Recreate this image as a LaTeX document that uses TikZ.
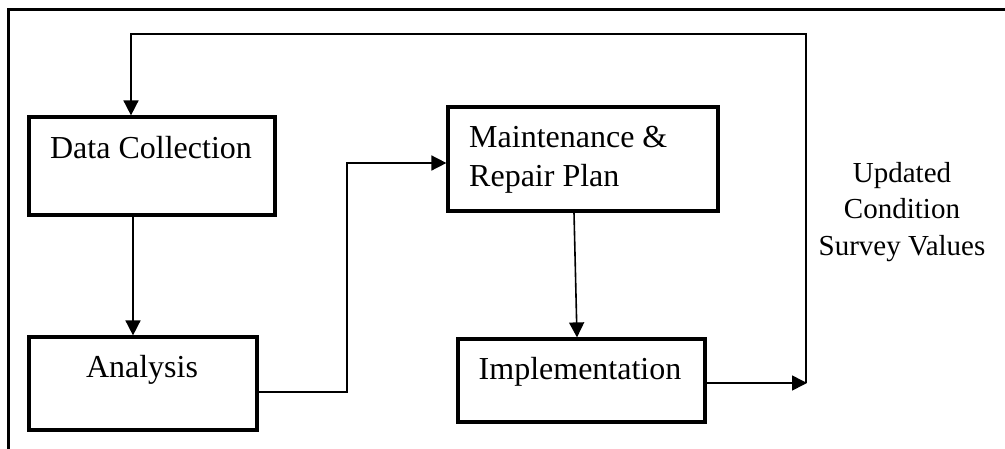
\documentclass[tikz,border=0pt]{standalone}
\usepackage{fontspec}
\setmainfont{Liberation Serif}
\usetikzlibrary{arrows.meta}
\begin{document}
\begin{tikzpicture}[x=1pt,y=-1pt,
  box/.style={draw, line width=3.2pt, inner sep=0pt},
  conn/.style={line width=1.6pt, -{Triangle[length=15pt,width=15pt]}},
  frame/.style={line width=3pt},
  boxtext/.style={font=\fontsize{32}{39}\selectfont, inner sep=0pt},
  note/.style={font=\fontsize{29}{36.5}\selectfont, inner sep=0pt, align=center}]
\useasboundingbox (0,0) rectangle (1005,448);

% outer frame (open to the right and bottom)
\draw[frame] (8,452) -- (8,9) -- (1010,9);

% process boxes
\node[box, minimum width=246pt, minimum height=98pt] (dc) at (152,166) {};
\node[box, minimum width=228pt, minimum height=93pt] (an) at (143,383.5) {};
\node[box, minimum width=270pt, minimum height=104pt] (mr) at (583,159) {};
\node[box, minimum width=247pt, minimum height=83pt] (im) at (581.5,380.5) {};

% box texts
\node[boxtext, anchor=base] (dct) at (151,158) {Data Collection};
\node[boxtext, anchor=base] (ant) at (142,377) {Analysis};
\node[boxtext, anchor=base west, align=left] (mrt) at (469,186) {Maintenance \&\\Repair Plan};
\node[boxtext, anchor=base] (imt) at (580,379) {Implementation};

% feedback label
\node[note, anchor=base] (upd) at (902,255) {Updated\\Condition\\Survey Values};

% connectors
\coordinate (ajog) at (347,280);
\coordinate (fbend) at (806,383);
\coordinate (fbtop) at (806,34);

\draw[conn] ([xshift=-19pt]dc.south) -- ([xshift=-10pt]an.north);
\draw[conn] ([yshift=-8.5pt]an.east) -| (ajog) |- ([yshift=-4pt]mr.west);
\draw[conn] ([xshift=-9pt]mr.south) -- ([xshift=-4.5pt]im.north);
\draw[conn] ([yshift=-2.5pt]im.east) -- ([xshift=1pt]fbend);
\draw[conn] (fbend) -- (fbtop) -| ([xshift=-21pt]dc.north);
\end{tikzpicture}
\end{document}
